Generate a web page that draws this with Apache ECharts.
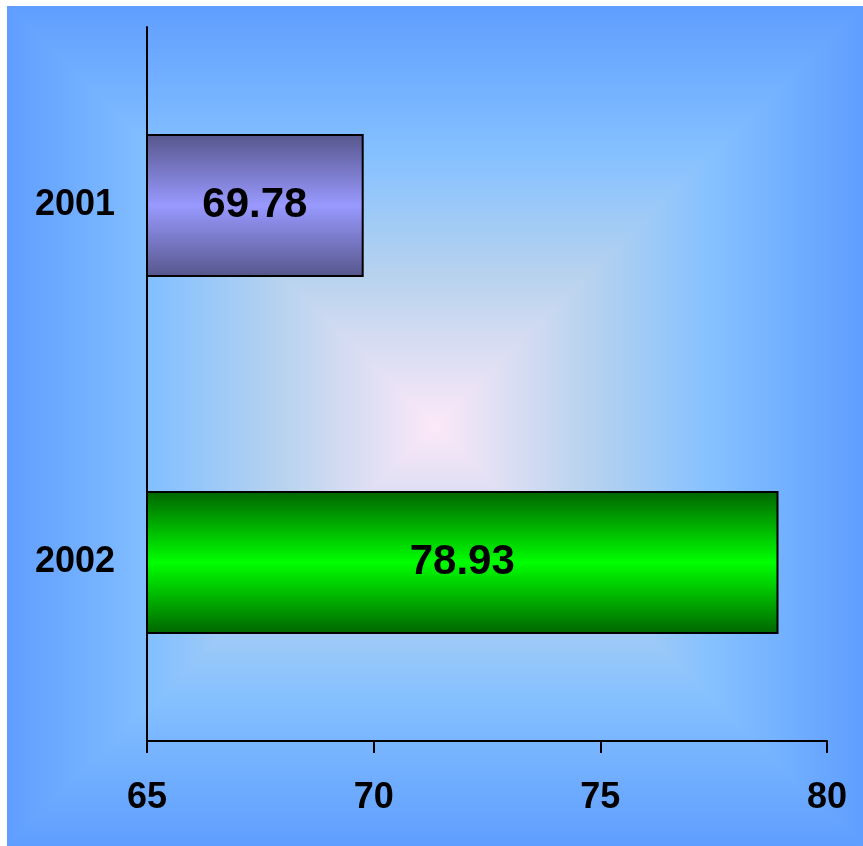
<!DOCTYPE html>
<html>
<head>
<meta charset="utf-8">
<script src="https://cdn.jsdelivr.net/npm/echarts@6/dist/echarts.min.js"></script>
<style>
html,body{margin:0;padding:0;background:#ffffff;}
#chart{width:863px;height:846px;}
</style>
</head>
<body>
<div id="chart"></div>
<script>
const categories = ['2001', '2002'];
const values = [69.78, 78.93];
const axisMin = 65;
const axisMax = 80;
const axisStep = 5;

const barGradients = [
  ['#56568C', '#9999FF', '#56568C'],
  ['#006400', '#00FF00', '#006400']
];

function vGrad(c) {
  return new echarts.graphic.LinearGradient(0, 0, 0, 1, [
    { offset: 0, color: c[0] },
    { offset: 0.5, color: c[1] },
    { offset: 1, color: c[2] }
  ]);
}

const bgStops = [
  { offset: 0, color: '#5F9EFF' },
  { offset: 0.36, color: '#86C1FF' },
  { offset: 0.65, color: '#B9D3EE' },
  { offset: 1, color: '#FCE8F8' }
];

const X0 = 7, Y0 = 6, X1 = 863, Y1 = 846;
const CX = (X0 + X1) / 2, CY = (Y0 + Y1) / 2;

function poly(points, x, y, x2, y2, z) {
  return {
    type: 'polygon',
    z: z,
    silent: true,
    shape: { points: points },
    style: {
      fill: new echarts.graphic.LinearGradient(x, y, x2, y2, bgStops, true),
      stroke: null
    }
  };
}

const chart = echarts.init(document.getElementById('chart'), null, { renderer: 'canvas' });

const option = {
  animation: false,
  backgroundColor: '#ffffff',
  graphic: {
    elements: [
      poly([[X0, Y0], [CX + 1, Y0], [CX + 1, Y1], [X0, Y1]], X0, 0, CX, 0, -20),
      poly([[CX - 1, Y0], [X1, Y0], [X1, Y1], [CX - 1, Y1]], X1, 0, CX, 0, -19),
      poly([[X0, Y0], [X1, Y0], [CX, CY]], 0, Y0, 0, CY, -10),
      poly([[X0, Y1], [X1, Y1], [CX, CY]], 0, Y1, 0, CY, -10)
    ]
  },
  grid: {
    left: 147,
    right: 36,
    top: 27,
    bottom: 105,
    containLabel: false
  },
  xAxis: {
    type: 'value',
    min: axisMin,
    max: axisMax,
    interval: axisStep,
    z: 5,
    splitLine: { show: false },
    axisLine: { show: true, lineStyle: { color: '#000000', width: 2 } },
    axisTick: { show: true, length: 12, lineStyle: { color: '#000000', width: 2 } },
    axisLabel: {
      color: '#000000',
      fontSize: 36,
      fontWeight: 'bold',
      fontFamily: 'Liberation Sans, Arial, sans-serif',
      margin: 39
    }
  },
  yAxis: {
    type: 'category',
    data: categories,
    inverse: true,
    z: 5,
    axisLine: { show: true, onZero: false, lineStyle: { color: '#000000', width: 2 } },
    axisTick: { show: false },
    splitLine: { show: false },
    axisLabel: {
      color: '#000000',
      fontSize: 36,
      fontWeight: 'bold',
      fontFamily: 'Liberation Sans, Arial, sans-serif',
      margin: 32,
      padding: [7, 0, 0, 0]
    }
  },
  series: [{
    type: 'bar',
    barWidth: '40%',
    data: values.map((v, i) => ({
      value: v,
      itemStyle: {
        color: vGrad(barGradients[i]),
        borderColor: '#000000',
        borderWidth: 2
      }
    })),
    label: {
      show: true,
      position: 'inside',
      color: '#000000',
      fontSize: 42,
      fontWeight: 'bold',
      fontFamily: 'Liberation Sans, Arial, sans-serif',
      formatter: p => p.value.toFixed(2)
    }
  }]
};

chart.setOption(option);
</script>
</body>
</html>
